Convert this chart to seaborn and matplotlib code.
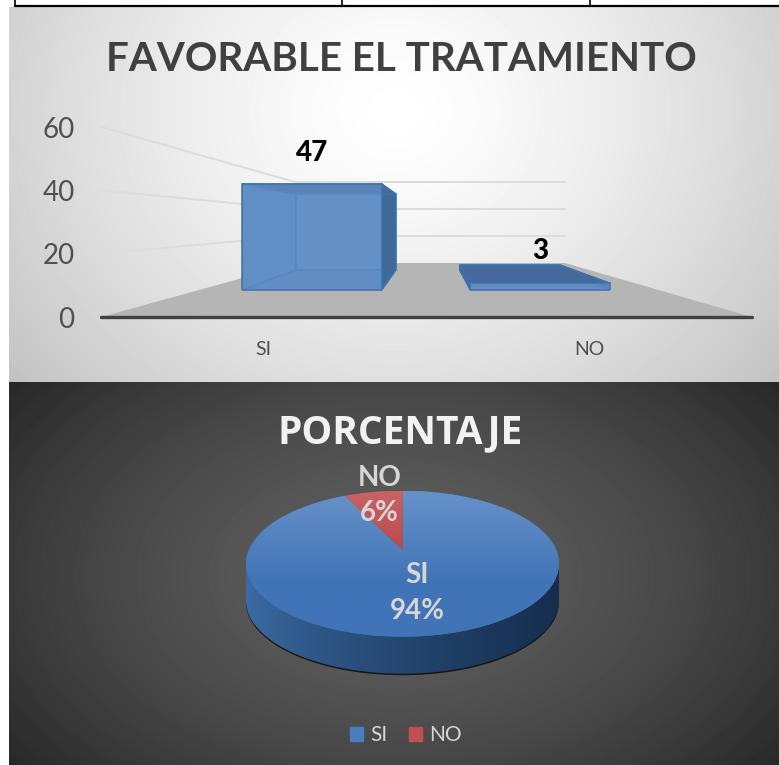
import numpy as np
import matplotlib
matplotlib.use('Agg')
import matplotlib.pyplot as plt
import seaborn as sns
from matplotlib.patches import Polygon, PathPatch
from matplotlib.path import Path

categorias = ['SI', 'NO']
valores = [47, 3]
porcentajes = [94, 6]
ticks_y = [0, 20, 40, 60]
titulo_barras = 'FAVORABLE EL TRATAMIENTO'
titulo_pie = 'PORCENTAJE'

W, H = 779, 765
sns.set_theme(style='white')
plt.rcParams['font.family'] = ['Lato', 'DejaVu Sans']

fig = plt.figure(figsize=(W / 100, H / 100), dpi=100, facecolor='white')


def px_axes(x0, y0, x1, y1, **kw):
    # axes placed by pixel box, y measured from the top
    return fig.add_axes([x0 / W, 1 - y1 / H, (x1 - x0) / W, (y1 - y0) / H], **kw)


ax_bg = px_axes(0, 0, W, H, zorder=0)
ax_bg.axis('off')

# backgrounds
yy, xx = np.mgrid[7:382, 9:779]
r = np.sqrt(((xx - 395) / 480) ** 2 + ((yy - 110) / 420) ** 2)
top = np.clip(1.0 - 0.23 * r ** 1.4, 0.76, 1.0)
ax_bg.imshow(top, extent=(9, 779, 382, 7), cmap='gray', vmin=0, vmax=1, aspect='auto', zorder=0)

yy, xx = np.mgrid[382:765, 9:779]
r = np.sqrt(((xx - 395) / 470) ** 2 + ((yy - 575) / 300) ** 2)
bot = np.clip(0.37 - 0.2 * r ** 1.6, 0.15, 0.37)
ax_bg.imshow(bot, extent=(9, 779, 765, 382), cmap='gray', vmin=0, vmax=1, aspect='auto', zorder=0)

ax_bg.set_xlim(0, W)
ax_bg.set_ylim(H, 0)

# table border above the charts
ax_bg.plot([15, 779], [6, 6], color='black', lw=1.6, zorder=1)
for xv in [15, 342, 590]:
    ax_bg.plot([xv, xv], [0, 6], color='black', lw=1.2, zorder=1)

# floor and wall gridlines of the 3D box
ax_bg.add_patch(Polygon([(101, 317), (752, 317), (565, 263), (297, 263)], color='#b5b5b5', lw=0, zorder=2))
for t in ticks_y[1:]:
    y_front = 317 - 190 * t / 60
    y_back = 263 - 81 * t / 60
    ax_bg.plot([101, 295, 565], [y_front, y_back, y_back], color='#dcdcdc', lw=1.4, zorder=1.5)

# axis with the 0-60 scale
ax_axis = px_axes(101, 127, 752, 317, zorder=1)
ax_axis.patch.set_alpha(0)
ax_axis.set_xlim(-0.5, 1.5)
ax_axis.set_ylim(0, 60)
ax_axis.set_xticks(range(len(categorias)))
ax_axis.set_xticklabels(categorias, fontsize=14, color='#505050')
ax_axis.set_yticks(ticks_y)
ax_axis.set_yticklabels(ticks_y, fontsize=20, color='#505050')
ax_axis.tick_params(axis='x', length=0, pad=17)
ax_axis.tick_params(axis='y', length=0, pad=19)
for s in ['top', 'left', 'right']:
    ax_axis.spines[s].set_visible(False)
ax_axis.spines['bottom'].set_color('#404040')
ax_axis.spines['bottom'].set_linewidth(2.4)
ax_axis.spines['bottom'].set_capstyle('round')

# bars
ax_bar = px_axes(198, 290 - 60 * 106 / 47, 654, 290, zorder=2)
ax_bar.patch.set_alpha(0)
sns.barplot(x=categorias, y=valores, color='#638fc5', width=0.61, saturation=1, ax=ax_bar, zorder=3)
ax_bar.set_xlim(-0.5, 1.5)
ax_bar.set_ylim(0, 60)
ax_bar.axis('off')
fig.canvas.draw()

to_px = ax_bar.transData + ax_bg.transData.inverted()


def atras(p):
    # front corner to back corner of the box, towards the vanishing point
    return (0.72 * p[0] + 121, 0.717 * p[1] + 62)


for barra, valor in zip(ax_bar.containers[0], valores):
    barra.set_alpha(0.72)
    barra.set_edgecolor('#3e72ae')
    barra.set_linewidth(1.4)
    x0, x1 = barra.get_x(), barra.get_x() + barra.get_width()
    tl, tr = to_px.transform([(x0, valor), (x1, valor)])
    bl, br = to_px.transform([(x0, 0), (x1, 0)])
    caras = [([atras(bl), atras(br), atras(tr), atras(tl)], '#6f98cd'),
             ([bl, atras(bl), atras(br), br], '#5d89c0'),
             ([tl, atras(tl), atras(bl), bl], '#5f8cc4' if valor > 10 else '#3f6a9c'),
             ([tr, atras(tr), atras(br), br], '#3f6a98'),
             ([tl, atras(tl), atras(tr), tr], '#44699a')]
    for verts, col in caras:
        ax_bg.add_patch(Polygon(verts, facecolor=col, edgecolor='#3e72ae', lw=1.1, zorder=3))
    ax_bar.annotate(str(valor), (barra.get_x() + barra.get_width() / 2, valor),
                    xytext=(0, 31 if valor > 10 else 32), textcoords='offset pixels',
                    ha='center', va='center', fontsize=20, fontweight='black', color='black', zorder=6)

ax_bg.text(401, 59, titulo_barras, ha='center', va='center', fontsize=29, fontweight='bold', color='#404040')

# pie: extruded side first
cx, cy, rx, ry, prof = 402.5, 563.7, 156.5, 73, 37
t = np.linspace(0, np.pi, 200)
borde = np.column_stack([cx + rx * np.cos(t), cy + ry * np.sin(t) + prof])
lado = np.vstack([[(cx + rx, cy)], borde, [(cx - rx, cy)]])
sombra = np.column_stack([cx + rx * np.cos(t), cy + ry * np.sin(t) + prof + 1.5])
ax_bg.add_patch(Polygon(np.vstack([[(cx + rx, cy)], sombra, [(cx - rx, cy)]]), color='#151515', lw=0, zorder=3))
grad = np.linspace(0, 1, 256).reshape(1, -1, 1)
azul_a, azul_b = np.array([0x3d, 0x6d, 0xa6]) / 255, np.array([0x15, 0x2e, 0x4e]) / 255
img = ax_bg.imshow(azul_a + (azul_b - azul_a) * grad ** 0.7, extent=(cx - rx, cx + rx, cy + ry + prof, cy),
                   aspect='auto', zorder=4)
clip = Polygon(lado, transform=ax_bg.transData)
img.set_clip_path(clip)

ax_bg.set_xlim(0, W)
ax_bg.set_ylim(H, 0)

ax_pie = px_axes(cx - rx, cy - ry, cx + rx, cy + ry, zorder=3)
wedges, _ = ax_pie.pie(porcentajes, startangle=90, counterclock=False, radius=1,
                       colors=['#4a7dbd', '#bf4b4b'])
ax_pie.set_aspect('auto')
ax_pie.set_xlim(-1, 1)
ax_pie.set_ylim(-1, 1)

# the apex sits above the ellipse centre because of the tilt
gradientes = [('#6791c9', '#4074b7'), ('#c96464', '#b23a3a')]
for w, (c0, c1) in zip(wedges, gradientes):
    p = w.get_path()
    v = p.vertices.copy()
    v[np.hypot(v[:, 0], v[:, 1]) < 1e-6, 1] = 0.19
    parche = PathPatch(Path(v, p.codes), facecolor=c1, lw=0, zorder=2)
    ax_pie.add_patch(parche)
    c0, c1 = np.array(matplotlib.colors.to_rgb(c0)), np.array(matplotlib.colors.to_rgb(c1))
    g = np.clip(np.linspace(0, 1.6, 256), 0, 1).reshape(-1, 1, 1)
    im = ax_pie.imshow(c0 + (c1 - c0) * g, extent=(-1, 1, -1, 1), aspect='auto', zorder=2.5)
    im.set_clip_path(parche)
    w.set_alpha(0)
ax_pie.set_xlim(-1, 1)
ax_pie.set_ylim(-1, 1)
ax_pie.set_aspect('auto')
ax_pie.axis('off')

col_txt = '#d6d6d6'
pos_txt = [(417.5, 575, 611), (379.5, 478, 513)]
for cat, pct, (xt, y1, y2) in zip(categorias, porcentajes, pos_txt):
    fig.text(xt / W, 1 - y1 / H, cat, ha='center', va='center', fontsize=20, fontweight='bold', color=col_txt, zorder=5)
    fig.text(xt / W, 1 - y2 / H, f'{pct}%', ha='center', va='center', fontsize=20, fontweight='bold', color=col_txt, zorder=5)

fig.text(400 / W, 1 - 433 / H, titulo_pie, ha='center', va='center', fontsize=28, fontweight='bold',
         family='Open Sans', color='#f2f2f2', zorder=5)

# legend from proxy squares
handles = [plt.Rectangle((0, 0), 1, 1, color=c) for c in ['#4a7dbd', '#c04f4f']]
fig.legend(handles, categorias, loc='center', bbox_to_anchor=(406 / W, 1 - 735 / H), ncol=2, frameon=False,
           fontsize=15, labelcolor=col_txt, handlelength=0.65, handleheight=0.65, handletextpad=0.35,
           columnspacing=1.0)

fig.savefig('out.png', dpi=100)
